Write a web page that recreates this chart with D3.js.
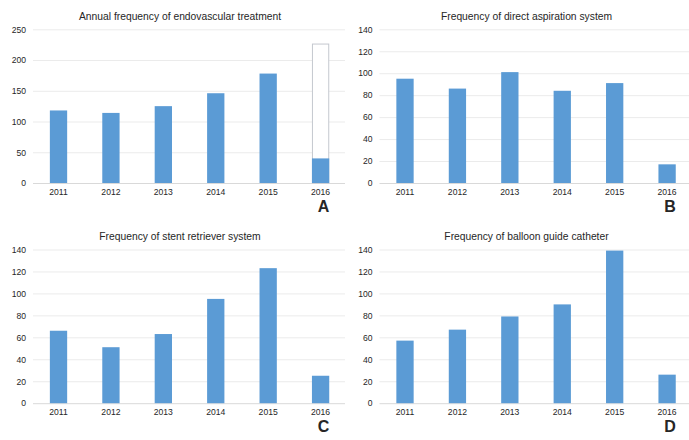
<!DOCTYPE html>
<html>
<head>
<meta charset="utf-8">
<script src="https://cdn.jsdelivr.net/npm/d3@7"></script>
<style>
  body { margin: 0; background: #fff; }
  text { font-family: "Liberation Sans", Arial, sans-serif; fill: #262626; }
</style>
</head>
<body>
<div id="chart"></div>
<script>
// data
var years = ["2011", "2012", "2013", "2014", "2015", "2016"];
var endovascular = [118, 114, 125, 146, 178, 40];
var endovascularProjected2016 = 226;
var directAspiration = [95, 86, 101, 84, 91, 17];
var stentRetriever = [66, 51, 63, 95, 123, 25];
var balloonGuide = [57, 67, 79, 90, 139, 26];

var titles = [
  "Annual frequency of endovascular treatment",
  "Frequency of direct aspiration system",
  "Frequency of stent retriever system",
  "Frequency of balloon guide catheter"
];
var letters = ["A", "B", "C", "D"];
var yMax = [250, 140, 140, 140];
var yStep = [50, 20, 20, 20];

var svgWidth = 689;
var svgHeight = 440;

var svg = d3.select("#chart")
  .append("svg")
  .attr("width", svgWidth)
  .attr("height", svgHeight);

// panel placement
var panels = [
  { left: 0, top: 0, values: endovascular },
  { left: 346.5, top: 0, values: directAspiration },
  { left: 0, top: 220.2, values: stentRetriever },
  { left: 346.5, top: 220.2, values: balloonGuide }
];

panels.forEach(function(p, i) {
  var g = svg.append("g")
    .attr("transform", `translate(${p.left}, ${p.top})`);

  var x = d3.scaleBand()
    .domain(years)
    .range([32.3, 346.8])
    .paddingInner(0.67)
    .paddingOuter(0.335);

  var y = d3.scaleLinear()
    .domain([0, yMax[i]])
    .range([183, 29.3]);

  var ticks = d3.range(0, yMax[i] + 1, yStep[i]);

  // gridlines
  g.append("g")
    .selectAll("line")
    .data(ticks)
    .enter()
    .append("line")
    .attr("x1", 33)
    .attr("x2", Math.min(345, svgWidth - p.left))
    .attr("y1", d => y(d) + 0.5)
    .attr("y2", d => y(d) + 0.5)
    .attr("stroke", d => d === 0 ? "#d9d9d9" : "#ebebeb")
    .attr("stroke-width", 1);

  // y axis labels
  var yAxis = d3.axisLeft(y).tickValues(ticks).tickSize(0).tickPadding(0);
  var ya = g.append("g")
    .attr("transform", "translate(26, 0)")
    .call(yAxis);
  ya.select(".domain").remove();
  ya.selectAll("text")
    .style("font-size", "8.6px")
    .attr("fill", "#262626");

  // x axis labels
  var xAxis = d3.axisBottom(x).tickSize(0).tickPadding(6);
  var xa = g.append("g")
    .attr("transform", "translate(0, 183)")
    .call(xAxis);
  xa.select(".domain").remove();
  xa.selectAll("text")
    .style("font-size", "8.6px")
    .attr("fill", "#262626");

  // projected 2016 box on panel A
  if (i === 0) {
    g.append("rect")
      .attr("x", x("2016") + 0.5)
      .attr("y", y(endovascularProjected2016))
      .attr("width", x.bandwidth() - 1)
      .attr("height", y(0) - y(endovascularProjected2016))
      .attr("fill", "#fff")
      .attr("stroke", "#c4c8cf")
      .attr("stroke-width", 1);
  }

  // bars
  g.selectAll("rect.bar")
    .data(p.values)
    .enter()
    .append("rect")
    .attr("class", "bar")
    .attr("x", (d, j) => x(years[j]))
    .attr("y", d => y(d))
    .attr("width", x.bandwidth())
    .attr("height", d => y(0) - y(d))
    .attr("fill", "#5b9bd5");

  // title
  g.append("text")
    .attr("x", 180)
    .attr("y", 19.5)
    .attr("text-anchor", "middle")
    .style("font-size", "10.3px")
    .attr("fill", "#1a1a1a")
    .text(titles[i]);

  // panel letter
  g.append("text")
    .attr("x", x("2016") + x.bandwidth() / 2 + 3)
    .attr("y", 212)
    .attr("text-anchor", "middle")
    .style("font-size", "16px")
    .style("font-weight", "bold")
    .attr("fill", "#111")
    .text(letters[i]);
});
</script>
</body>
</html>
